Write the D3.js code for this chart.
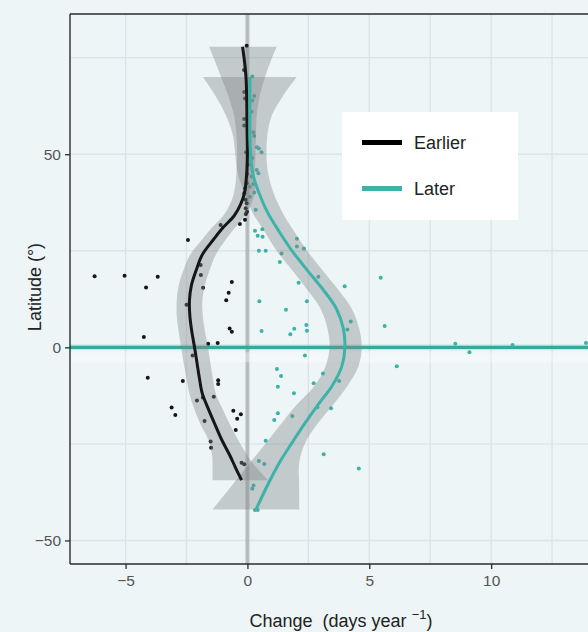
<!DOCTYPE html>
<html>
<head>
<meta charset="utf-8">
<script src="https://cdn.jsdelivr.net/npm/d3@7"></script>
<style>
  body{margin:0;background:#edf5f7;}
  svg{display:block;font-family:"Liberation Sans","DejaVu Sans",sans-serif;}
</style>
</head>
<body>
<div id="chart"></div>
<script>
// raw points [change (days/yr), latitude]
var earlierPts = [
  [-6.27,18.4],[-5.04,18.5],[-3.68,18.3],[-4.16,15.5],[-4.25,2.7],[-4.09,-7.9],[-2.65,-8.7],
  [-3.11,-15.6],[-2.96,-17.5],[-2.44,27.8],[-2.5,11.0],[-2.25,-2.1],[-2.07,-13.8],
  [-1.92,21.3],[-1.91,18.7],[-1.82,15.4],[-0.64,16.9],[-0.77,14.1],[-0.87,12.2],[-0.73,4.9],
  [-0.64,4.0],[-1.61,0.9],[-1.22,1.1],[-1.2,-8.5],[-1.2,-9.5],[-1.38,-12.8],[-1.83,-13.0],
  [-1.76,-19.1],[-0.58,-16.4],[-0.27,-17.3],[-0.42,-18.5],[-0.48,-21.4],[-1.51,-24.4],
  [-1.49,-26.0],[-0.24,-29.9],[-0.13,-30.3],[-1.1,31.7],[-0.31,31.9],
  [-0.03,78.1],[-0.14,71.8],[-0.13,66.1],[-0.1,64.4],[-0.13,59.1],[-0.13,57.4],[-0.05,50.5],
  [0.01,47.3],[-0.01,44.9],[-0.03,42.5],[-0.1,41.2],[-0.13,39.9],[-0.07,38.2],[-0.03,37.3],
  [-0.07,36.0],[-0.02,35.1],[-0.07,34.5],[-0.1,33.0]
];
var laterPts = [
  [0.2,70.1],[0.28,65.1],[0.2,63.9],[0.17,61.0],[0.24,55.7],[0.28,54.7],[0.39,51.8],[0.47,51.5],
  [0.58,50.5],[0.2,49.0],[0.38,45.9],[0.45,45.1],[0.17,44.2],[0.24,42.3],[0.1,41.6],[0.28,40.1],
  [0.1,39.0],[0.34,35.6],[0.31,30.2],[0.42,28.9],[0.61,30.6],[0.62,28.6],[0.47,25.0],[0.75,25.0],
  [2.03,28.1],[2.03,26.1],[2.32,25.6],[1.4,24.3],[1.33,22.1],[2.1,16.7],[2.91,18.3],[3.99,15.8],
  [0.49,11.9],[2.44,11.9],[1.58,9.7],[4.24,6.7],[4.1,4.6],[2.42,5.8],[2.44,4.3],[1.92,4.8],
  [1.76,3.4],[0.58,4.2],[2.36,-2.1],[1.21,-5.6],[1.38,-7.4],[1.25,-10.2],[1.91,-11.9],[3.1,-6.8],
  [2.72,-9.3],[3.76,-8.7],[2.87,-15.5],[3.43,-15.8],[1.25,-17.1],[1.1,-18.8],[1.84,-17.8],
  [0.75,-24.2],[3.13,-27.7],[4.57,-31.4],[0.47,-29.4],[0.69,-30.2],[0.25,-35.8],[0.2,-36.6],
  [0.31,-42.1],[0.42,-42.1],[6.13,-4.9],[5.47,18.0],[5.63,5.5],[8.53,0.9],[9.11,-1.3],
  [10.88,0.6],[13.89,1.1]
];

// smoothed fits and their bands, read along latitude
var earlierLat = [77.8,74,70,65,60,55,50,45,40,37,34,31,28,24,20,16,12,8,4,0,-4,-8,-12,-16,-20,-24,-28,-31,-34.4];
var earlierFit = [-0.2,-0.12,-0.06,-0.03,-0.02,-0.01,0,-0.03,-0.12,-0.28,-0.55,-1.0,-1.38,-1.85,-2.1,-2.3,-2.38,-2.36,-2.28,-2.17,-2.07,-1.97,-1.85,-1.6,-1.33,-1.05,-0.72,-0.5,-0.24];
var earlierLo  = [-1.57,-1.33,-1.08,-0.78,-0.55,-0.45,-0.42,-0.45,-0.55,-0.72,-1.0,-1.45,-1.85,-2.35,-2.62,-2.82,-2.9,-2.9,-2.82,-2.72,-2.62,-2.5,-2.38,-2.18,-1.92,-1.6,-1.45,-1.43,-1.43];
var earlierHi  = [1.2,0.95,0.72,0.5,0.38,0.35,0.33,0.3,0.3,0.15,-0.1,-0.5,-0.88,-1.3,-1.55,-1.75,-1.85,-1.83,-1.74,-1.62,-1.52,-1.42,-1.3,-1.02,-0.72,-0.38,0.0,0.35,0.85];

var laterLat = [70,65,60,55,50,45,40,35,30,25,20,15,10,5,0,-5,-10,-15,-20,-25,-30,-35,-42];
var laterFit = [0.1,0.1,0.1,0.1,0.13,0.22,0.47,0.82,1.3,1.83,2.45,3.1,3.65,3.93,4.0,3.87,3.47,2.88,2.32,1.8,1.3,0.88,0.35];
var laterLo  = [-1.82,-1.3,-0.88,-0.6,-0.5,-0.4,-0.12,0.2,0.7,1.2,1.83,2.45,3.0,3.28,3.37,3.2,2.75,2.0,1.36,0.73,0.09,-0.54,-1.43];
var laterHi  = [2.02,1.45,1.0,0.82,0.78,0.85,1.07,1.43,1.92,2.45,3.07,3.72,4.28,4.58,4.69,4.55,4.1,3.5,2.85,2.35,2.12,2.12,2.13];

var xTicks = [-5,0,5,10];
var yTicks = [-50,0,50];
var xMinor = [-2.5,2.5,7.5,12.5];
var yMinor = [-25,25,75];
var seriesNames = ["Earlier","Later"];

var W = 588, H = 632;
var black = "#161616", teal = "#3cb3a9";

var svg = d3.select("#chart").append("svg").attr("width",W).attr("height",H);
svg.append("rect").attr("width",W).attr("height",H).attr("fill","#edf5f7");

var x = d3.scaleLinear().domain([-7.28,15]).range([70,613]);
var y = d3.scaleLinear().domain([-56.1,86.3]).range([564,14]);

svg.append("clipPath").attr("id","clip").append("rect")
   .attr("x",70).attr("y",14).attr("width",543).attr("height",550);
var panel = svg.append("g").attr("clip-path","url(#clip)");

// grid
panel.selectAll("line.vg").data(xTicks.concat(xMinor)).enter().append("line")
   .attr("x1",d=>x(d)).attr("x2",d=>x(d)).attr("y1",14).attr("y2",564)
   .attr("stroke","#dbe4e7").attr("stroke-width",1.4);
panel.selectAll("line.hg").data(yTicks.concat(yMinor)).enter().append("line")
   .attr("x1",70).attr("x2",613).attr("y1",d=>y(d)).attr("y2",d=>y(d))
   .attr("stroke","#dbe4e7").attr("stroke-width",1.4);

// zero lines
panel.append("line").attr("x1",x(0)).attr("x2",x(0)).attr("y1",14).attr("y2",564)
   .attr("stroke","#9ea4a6").attr("stroke-opacity",0.65).attr("stroke-width",4);
panel.append("rect").attr("x",70).attr("width",543).attr("y",y(0)+5).attr("height",10)
   .attr("fill","#ffffff").attr("opacity",0.35);
panel.append("line").attr("x1",70).attr("x2",613).attr("y1",y(0)).attr("y2",y(0))
   .attr("stroke",teal).attr("stroke-opacity",0.18).attr("stroke-width",6);
panel.append("line").attr("x1",70).attr("x2",613).attr("y1",y(0)).attr("y2",y(0))
   .attr("stroke","#3aa79d").attr("stroke-width",3.2);

// points
panel.selectAll("circle.e").data(earlierPts).enter().append("circle")
   .attr("cx",d=>x(d[0])).attr("cy",d=>y(d[1])).attr("r",2).attr("fill",black);
panel.selectAll("circle.l").data(laterPts).enter().append("circle")
   .attr("cx",d=>x(d[0])).attr("cy",d=>y(d[1])).attr("r",2).attr("fill",teal);

// bands
function band(lat, lo, hi){
  var rows = lat.map((d,i)=>({lat:d, lo:lo[i], hi:hi[i]}));
  return d3.area().curve(d3.curveCatmullRom)
    .y(d=>y(d.lat)).x0(d=>x(d.lo)).x1(d=>x(d.hi))(rows);
}
function fit(lat, v){
  var rows = lat.map((d,i)=>({lat:d, v:v[i]}));
  return d3.line().curve(d3.curveCatmullRom).x(d=>x(d.v)).y(d=>y(d.lat))(rows);
}
panel.append("path").attr("d",band(earlierLat,earlierLo,earlierHi))
   .attr("fill","#7d8385").attr("fill-opacity",0.38);
panel.append("path").attr("d",band(laterLat,laterLo,laterHi))
   .attr("fill","#7d8385").attr("fill-opacity",0.38);
panel.append("path").attr("d",fit(earlierLat,earlierFit))
   .attr("fill","none").attr("stroke",black).attr("stroke-width",3);
panel.append("path").attr("d",fit(laterLat,laterFit))
   .attr("fill","none").attr("stroke",teal).attr("stroke-width",3);

// frame
svg.append("line").attr("x1",70).attr("x2",W).attr("y1",14).attr("y2",14).attr("stroke","#2b2b2b").attr("stroke-width",1.4);
svg.append("line").attr("x1",70).attr("x2",70).attr("y1",14).attr("y2",564).attr("stroke","#2b2b2b").attr("stroke-width",1.4);
svg.append("line").attr("x1",70).attr("x2",W).attr("y1",564).attr("y2",564).attr("stroke","#2b2b2b").attr("stroke-width",1.4);

// axes
var xAxis = svg.append("g").attr("transform","translate(0,564)")
   .call(d3.axisBottom(x).tickValues(xTicks).tickSize(5).tickPadding(6).tickFormat(d=>d<0?"\u2212"+(-d):d));
var yAxis = svg.append("g").attr("transform","translate(70,0)")
   .call(d3.axisLeft(y).tickValues(yTicks).tickSize(5).tickPadding(4).tickFormat(d=>d<0?"\u2212"+(-d):d));
[xAxis,yAxis].forEach(function(a){
  a.select(".domain").remove();
  a.selectAll(".tick line").attr("stroke","#2b2b2b").attr("stroke-width",1.3);
  a.selectAll(".tick text").attr("fill","#555").style("font-size","15.5px")
   .style("font-family","'Liberation Sans',sans-serif");
});

svg.append("text").attr("transform","translate(41,287) rotate(-90)")
   .attr("text-anchor","middle").attr("fill","#222").style("font-size","18px").text("Latitude (°)");
var xt = svg.append("text").attr("x",341).attr("y",627).attr("text-anchor","middle")
   .attr("fill","#222").style("font-size","18px");
xt.append("tspan").text("Change\u00a0\u00a0(days year\u00a0");
xt.append("tspan").attr("dy",-8).style("font-size","13px").text("\u22121");
xt.append("tspan").attr("dy",8).text(")");

// legend
var lg = svg.append("g");
lg.append("rect").attr("x",342).attr("y",112).attr("width",176).attr("height",108).attr("fill","#ffffff");
var keys = lg.selectAll("g.key").data(seriesNames).enter().append("g")
   .attr("transform",(d,i)=>"translate(362,"+(142.5+i*46)+")");
keys.append("line").attr("x1",0).attr("x2",40).attr("y1",0).attr("y2",0)
   .attr("stroke",(d,i)=>i?teal:"#000").attr("stroke-width",5);
keys.append("text").attr("x",52).attr("y",6).attr("fill","#222")
   .style("font-size","18px").text(d=>d);
</script>
</body>
</html>
